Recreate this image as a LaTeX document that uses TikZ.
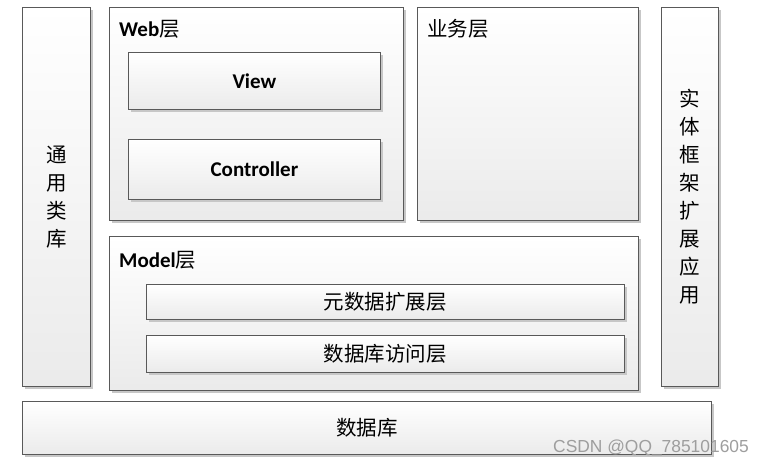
\documentclass[tikz,border=0pt]{standalone}
\usepackage{fontspec}
\setmainfont{Carlito}
\newfontfamily\cjk{Noto Sans CJK SC}
\newfontfamily\wmfont{Liberation Sans}
\usetikzlibrary{positioning,shadows}

\begin{document}
\begin{tikzpicture}[x=1pt,y=-1pt,
    layer/.style={draw=black!65,line width=0.8pt,top color=white,bottom color=black!8,
                  drop shadow={shadow xshift=2.5pt,shadow yshift=-2.5pt,fill=black!22,opacity=1},
                  anchor=north west,inner sep=0pt},
    title/.style={anchor=west,inner sep=0pt},
    en/.style={font=\bfseries\fontsize{21}{24}\selectfont},
    cn/.style={font=\cjk\fontsize{20.5}{28}\selectfont,align=center}]

  \useasboundingbox (0,0) rectangle (764,467);

  % side columns
  \node[layer,cn,minimum width=68pt,minimum height=379pt] (lib) at (22,7) {通\\用\\类\\库};
  \node[layer,cn,minimum width=57pt,minimum height=379pt] (ef) at (661,7)
       {实\\体\\框\\架\\扩\\展\\应\\用};

  % web layer
  \node[layer,minimum width=294pt,minimum height=213pt] (web) at (109,7) {};
  \node[title] (webt) at ([xshift=10pt,yshift=-22pt]web.north west)
       {{\fontsize{21}{24}\selectfont\bfseries Web}{\cjk\fontsize{20.5}{24}\selectfont 层}};
  \node[layer,en,minimum width=252pt,minimum height=57pt] (view) at (128,52) {View};
  \node[layer,en,minimum width=252pt,minimum height=60pt] (ctrl) at (128,139) {Controller};

  % business layer
  \node[layer,minimum width=221pt,minimum height=213pt] (biz) at (417,7) {};
  \node[title,font=\cjk\fontsize{20.5}{24}\selectfont] (bizt)
       at ([xshift=10pt,yshift=-22pt]biz.north west) {业务层};

  % model layer
  \node[layer,minimum width=529pt,minimum height=154pt] (model) at (109,236) {};
  \node[title] (modelt) at ([xshift=10pt,yshift=-24pt]model.north west)
       {{\fontsize{21}{24}\selectfont\bfseries Model}{\cjk\fontsize{20.5}{24}\selectfont 层}};
  \node[layer,cn,minimum width=478pt,minimum height=35pt] (meta) at (146,284) {元数据扩展层};
  \node[layer,cn,minimum width=478pt,minimum height=37pt] (dal) at (146,335) {数据库访问层};

  % database
  \node[layer,cn,minimum width=689pt,minimum height=53pt] (db) at (22,401) {数据库};

  \node[anchor=west,inner sep=0pt,text=black!38,font=\wmfont\fontsize{17.4}{17}\selectfont]
       (mark) at (553,448) {CSDN @QQ\_785101605};
\end{tikzpicture}
\end{document}
